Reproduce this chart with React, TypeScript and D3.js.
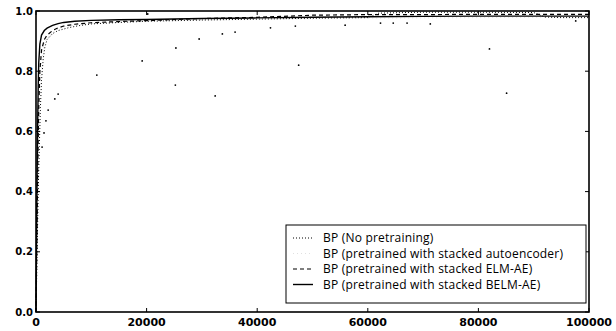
import React from 'react';
import * as d3 from 'd3';

// iterations shared by the smooth curves
const iterations = [0, 100, 200, 300, 400, 500, 700, 1000, 1500, 2000, 3000, 4000, 5000, 7000, 10000, 15000, 20000, 30000, 40000, 50000, 60000, 70000, 80000, 90000, 100000];

const belmAcc = [0.0, 0.25, 0.45, 0.62, 0.75, 0.83, 0.89, 0.92, 0.935, 0.943, 0.952, 0.958, 0.962, 0.966, 0.969, 0.971, 0.972, 0.975, 0.977, 0.979, 0.981, 0.982, 0.983, 0.983, 0.983];
const elmAcc = [0.0, 0.15, 0.3, 0.45, 0.58, 0.68, 0.8, 0.87, 0.905, 0.92, 0.935, 0.944, 0.95, 0.956, 0.961, 0.965, 0.968, 0.975, 0.979, 0.986, 0.988, 0.988, 0.989, 0.989, 0.989];
const aeAcc = [0.0, 0.1, 0.22, 0.36, 0.5, 0.6, 0.74, 0.83, 0.89, 0.91, 0.93, 0.94, 0.947, 0.953, 0.958, 0.962, 0.965, 0.969, 0.972, 0.974, 0.976, 0.977, 0.978, 0.979, 0.979];

// no pretraining: main trace + stray points
const npIter = [0, 200, 400, 600, 800, 1000, 1300, 1600, 2000, 3000, 4000, 6000, 8000, 10000, 15000, 20000, 30000, 40000, 50000, 60000, 62000, 70000, 80000, 90000, 92000, 95000, 100000];
const npAcc = [0.0, 0.2, 0.4, 0.55, 0.68, 0.77, 0.84, 0.88, 0.905, 0.925, 0.935, 0.945, 0.952, 0.957, 0.962, 0.966, 0.97, 0.973, 0.976, 0.978, 0.993, 0.996, 0.996, 0.995, 0.98, 0.978, 0.978];
const strayIter = [1100, 1450, 1800, 2200, 3400, 4000, 11000, 19200, 20200, 25200, 25300, 29500, 32400, 33700, 36000, 42400, 46900, 47500, 55900, 62300, 64600, 67100, 71300, 82000, 85100, 97600];
const strayAcc = [0.548, 0.595, 0.635, 0.671, 0.708, 0.724, 0.787, 0.834, 0.99, 0.754, 0.877, 0.907, 0.718, 0.924, 0.93, 0.944, 0.95, 0.82, 0.953, 0.96, 0.96, 0.96, 0.957, 0.874, 0.727, 0.967];

const xTicks = [0, 20000, 40000, 60000, 80000, 100000];
const yTicks = [0.0, 0.2, 0.4, 0.6, 0.8, 1.0];

const legendLabels = [
    'BP (No pretraining)',
    'BP (pretrained with stacked autoencoder)',
    'BP (pretrained with stacked ELM-AE)',
    'BP (pretrained with stacked BELM-AE)',
];

const width = 616;
const height = 331;
const margin = { top: 11, right: 27, bottom: 19, left: 36 };

const App = () => {
    const x = d3.scaleLinear().domain([0, 100000]).range([margin.left, width - margin.right]);
    const y = d3.scaleLinear().domain([0, 1]).range([height - margin.bottom, margin.top]);

    const line = d3.line<[number, number]>().x(d => x(d[0])).y(d => y(d[1]));
    const zip = (xs: number[], ys: number[]) => xs.map((v, i) => [v, ys[i]] as [number, number]);

    const styles = [
        { stroke: '#000', dash: '1 2', width: 1 },
        { stroke: '#d8d8d8', dash: '1 3', width: 0.8 },
        { stroke: '#000', dash: '4 3', width: 1.2 },
        { stroke: '#000', dash: null, width: 1.4 },
    ];

    const lx = 286, ly = 225, lw = 300, lh = 78;
    const fontTick = { fontFamily: 'DejaVu Sans', fontWeight: 'bold' as const };

    return (
        <svg width={width} height={height} style={{ position: 'absolute', left: 0, top: 0, background: '#fff' }}>
            <path d={line(zip(iterations, aeAcc)) || ''} fill="none" stroke={styles[1].stroke} strokeWidth={styles[1].width} strokeDasharray={styles[1].dash} />
            <path d={line(zip(npIter, npAcc)) || ''} fill="none" stroke="#000" strokeWidth={1} strokeDasharray="1 2" />
            {strayIter.map((v, i) => (
                <circle key={i} cx={x(v)} cy={y(strayAcc[i])} r={0.9} fill="#000" />
            ))}
            <path d={line(zip(iterations, elmAcc)) || ''} fill="none" stroke="#000" strokeWidth={1.2} strokeDasharray="4 3" />
            <path d={line(zip(iterations, belmAcc)) || ''} fill="none" stroke="#000" strokeWidth={1.4} />

            <rect x={margin.left} y={margin.top} width={width - margin.left - margin.right} height={height - margin.top - margin.bottom}
                fill="none" stroke="#000" strokeWidth={1.6} />

            {xTicks.map(t => (
                <g key={t}>
                    <line x1={x(t)} x2={x(t)} y1={y(0)} y2={y(0) - 4} stroke="#000" />
                    <line x1={x(t)} x2={x(t)} y1={y(1)} y2={y(1) + 4} stroke="#000" />
                    <text x={x(t)} y={y(0) + 14} textAnchor="middle" fontSize={11} {...fontTick}>{t}</text>
                </g>
            ))}
            {yTicks.map(t => (
                <g key={t}>
                    <line x1={x(0)} x2={x(0) + 4} y1={y(t)} y2={y(t)} stroke="#000" />
                    <line x1={x(100000)} x2={x(100000) - 4} y1={y(t)} y2={y(t)} stroke="#000" />
                    <text x={x(0) - 3} y={y(t) + 3.5} textAnchor="end" fontSize={10} {...fontTick}>{t.toFixed(1)}</text>
                </g>
            ))}

            <rect x={lx} y={ly} width={lw} height={lh} fill="#fff" stroke="#000" strokeWidth={1} />
            {legendLabels.map((label, i) => {
                const ry = ly + 13 + i * 15.5;
                const s = styles[i];
                return (
                    <g key={label}>
                        <line x1={lx + 7} x2={lx + 27} y1={ry} y2={ry} stroke={s.stroke} strokeWidth={s.width} strokeDasharray={s.dash || undefined} />
                        <text x={lx + 37} y={ry + 4} fontFamily="Open Sans" fontSize={12} letterSpacing={0.2}>{label}</text>
                    </g>
                );
            })}
        </svg>
    );
};

export default App;
